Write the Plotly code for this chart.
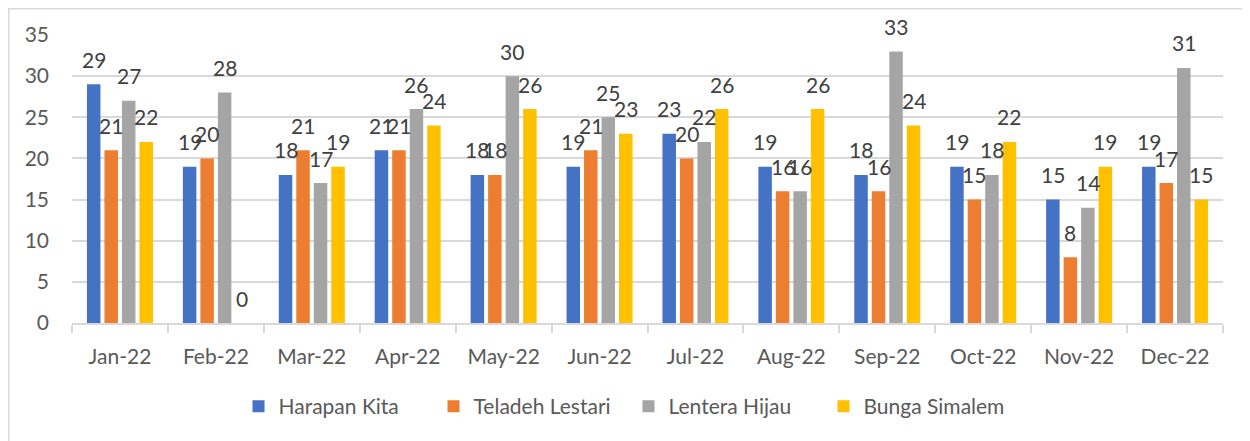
import plotly.graph_objects as go

months = ["Jan-22", "Feb-22", "Mar-22", "Apr-22", "May-22", "Jun-22",
          "Jul-22", "Aug-22", "Sep-22", "Oct-22", "Nov-22", "Dec-22"]
harapan_kita = [29, 19, 18, 21, 18, 19, 23, 19, 18, 19, 15, 19]
teladeh_lestari = [21, 20, 21, 21, 18, 21, 20, 16, 16, 15, 8, 17]
lentera_hijau = [27, 28, 17, 26, 30, 25, 22, 16, 33, 18, 14, 31]
bunga_simalem = [22, 0, 19, 24, 26, 23, 26, 26, 24, 22, 19, 15]

series = [
    ("Harapan Kita", harapan_kita, "#4472C4"),
    ("Teladeh Lestari", teladeh_lestari, "#ED7D31"),
    ("Lentera Hijau", lentera_hijau, "#A5A5A5"),
    ("Bunga Simalem", bunga_simalem, "#FFC000"),
]

FONT = "Lato"
FS = 21
BARGAP = 0.27
BARGROUPGAP = 0.23
xs = list(range(len(months)))

fig = go.Figure()
annotations = []
slot = (1 - BARGAP) / len(series)
for k, (name, vals, color) in enumerate(series):
    fig.add_trace(go.Bar(
        x=xs, y=vals, name=name,
        marker=dict(color=color, line=dict(width=0)),
        hoverinfo="y+name",
    ))
    off = (k - (len(series) - 1) / 2) * slot
    for i, v in zip(xs, vals):
        annotations.append(dict(
            x=i + off, y=v, xref="x", yref="y", text=str(v),
            showarrow=False, yshift=25, yanchor="middle", xanchor="center",
            font=dict(family=FONT, size=FS, color="#404040"),
        ))

# figure is placed by the page with an 8px body margin
W, H = 1242, 433
L, R, T = 64, 27, 27
ph = 288
B = H - T - ph
pw = W - L - R

fig.update_layout(
    width=W, height=H, autosize=False,
    margin=dict(l=L, r=R, t=T, b=B, pad=0),
    paper_bgcolor="white", plot_bgcolor="white",
    barmode="group", bargap=BARGAP, bargroupgap=BARGROUPGAP,
    font=dict(family=FONT, size=FS, color="#595959"),
    showlegend=True,
    legend=dict(orientation="h", x=0.4835, xanchor="center", y=-0.29, yanchor="middle",
                font=dict(family=FONT, size=FS, color="#595959"),
                itemclick=False, itemdoubleclick=False, tracegroupgap=0, itemwidth=30,
                entrywidth=150, entrywidthmode="pixels"),
    annotations=annotations,
    shapes=[dict(type="rect", xref="paper", yref="paper",
                 x0=(0.75 - L) / pw, x1=(W + 20 - L) / pw,
                 y0=(H - B - (H + 20)) / ph, y1=(H - B - 0.75) / ph,
                 line=dict(color="#D9D9D9", width=1.5), fillcolor="rgba(0,0,0,0)",
                 layer="below")],
)
fig.update_xaxes(
    range=[-0.5, len(months) - 0.5],
    tickmode="array", tickvals=xs, ticktext=months,
    ticks="", ticklabelstandoff=14,
    showgrid=False, zeroline=False, automargin=False,
    showline=True, linecolor="#D9D9D9", linewidth=1.5,
    minor=dict(ticks="outside", ticklen=8, tickwidth=1.5, tickcolor="#D9D9D9",
               tickmode="array", tickvals=[i - 0.5 for i in range(len(months) + 1)],
               showgrid=False),
    tickfont=dict(family=FONT, size=FS, color="#595959"),
    fixedrange=True,
)
fig.update_yaxes(
    range=[0, 35], dtick=5, tick0=0,
    ticks="", ticklabelstandoff=22,
    showgrid=True, gridcolor="#D9D9D9", gridwidth=1.5,
    zeroline=False, showline=False, automargin=False,
    tickfont=dict(family=FONT, size=FS, color="#595959"),
    fixedrange=True,
)

fig.write_html("out.html")
